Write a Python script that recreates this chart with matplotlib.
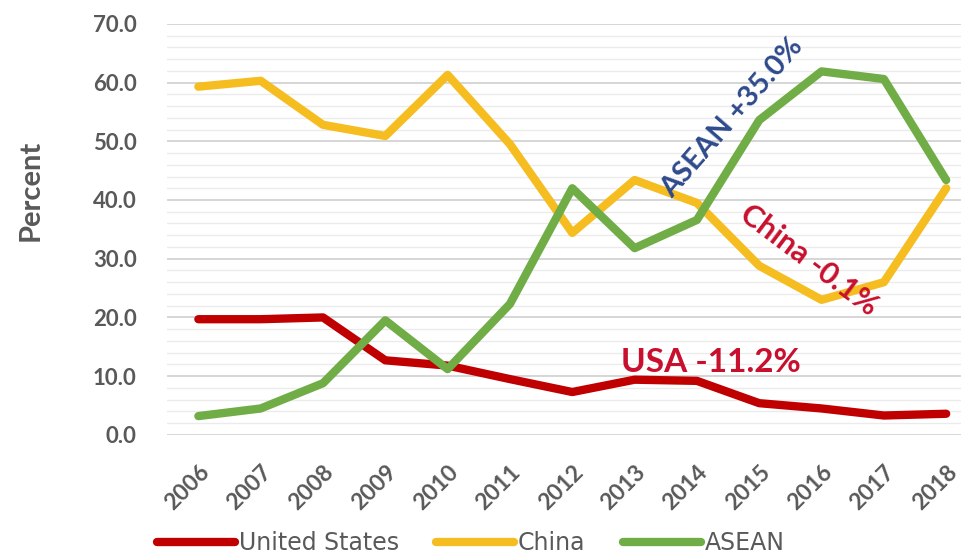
import matplotlib.pyplot as plt
import numpy as np
from matplotlib.ticker import MultipleLocator

years = [2006, 2007, 2008, 2009, 2010, 2011, 2012, 2013, 2014, 2015, 2016, 2017, 2018]
usa = [19.7, 19.7, 20.0, 12.7, 11.8, 9.5, 7.3, 9.4, 9.2, 5.4, 4.5, 3.3, 3.6]
china = [59.3, 60.3, 52.8, 50.9, 61.3, 49.5, 34.4, 43.4, 39.5, 28.8, 23.0, 26.0, 42.0]
asean = [3.2, 4.5, 8.8, 19.5, 11.2, 22.3, 42.0, 31.8, 36.6, 53.6, 61.9, 60.6, 43.4]
series_names = ["United States", "China", "ASEAN"]

plt.rcParams['font.family'] = ['Lato', 'DejaVu Sans']

fig = plt.figure(figsize=(9.61, 5.54), dpi=100)
ax = fig.add_axes([0.174, 0.215, 0.843, 0.742])

x = np.arange(len(years))
red = "#C00000"
gold = "#F5BD1F"
green = "#70AD47"
ax.plot(x, usa, color=red, lw=6, solid_capstyle="round", solid_joinstyle="round", label=series_names[0])
ax.plot(x, china, color=gold, lw=6, solid_capstyle="round", solid_joinstyle="round", label=series_names[1])
ax.plot(x, asean, color=green, lw=6, solid_capstyle="round", solid_joinstyle="round", label=series_names[2])

ax.set_xlim(-0.5, len(years) - 0.5)
ax.set_ylim(0, 70)
ax.yaxis.set_major_locator(MultipleLocator(10))
ax.yaxis.set_minor_locator(MultipleLocator(2))
ax.grid(axis="y", which="major", color="#D0D0D0", lw=1.2, zorder=0)
ax.grid(axis="y", which="minor", color="#EBEBEB", lw=1.0, zorder=0)
ax.set_axisbelow(True)
for s in ax.spines.values():
    s.set_visible(False)
ax.tick_params(which="both", length=0)
ax.set_yticks(np.arange(0, 71, 10))
ax.set_yticklabels([f"{v:.1f}" for v in np.arange(0, 71, 10)], fontsize=16,
                   fontweight="bold", color="#595959")
ax.tick_params(axis="y", pad=22)
ax.set_xticks(x)
ax.set_xticklabels([str(y) for y in years], rotation=45, ha="right", rotation_mode="anchor",
                   fontsize=16.5, fontweight="bold", color="#595959")
ax.tick_params(axis="x", pad=19)
ax.set_ylabel("Percent", fontsize=21, fontweight="bold", color="#595959")
ax.yaxis.set_label_coords(-0.153, 0.596)

ax.text(8.57, 54.0, "ASEAN +35.0%", rotation=49, color="#2E4A8C", fontsize=21,
        fontweight="bold", ha="center", va="center")
ax.text(9.8, 29.8, "China -0.1%", rotation=-37, color="#C8102E", fontsize=22,
        fontweight="bold", ha="center", va="center")
ax.text(8.22, 12.3, "USA -11.2%", color="#C8102E", fontsize=24,
        fontweight="bold", ha="center", va="center")

fig.legend(loc="lower center", bbox_to_anchor=(0.49, -0.04), ncol=3, frameon=False,
           prop={"family": "DejaVu Sans", "size": 17}, handlelength=3.3,
           columnspacing=1.6, handletextpad=0.15, labelcolor="#595959")

fig.savefig("out.png", dpi=100)
